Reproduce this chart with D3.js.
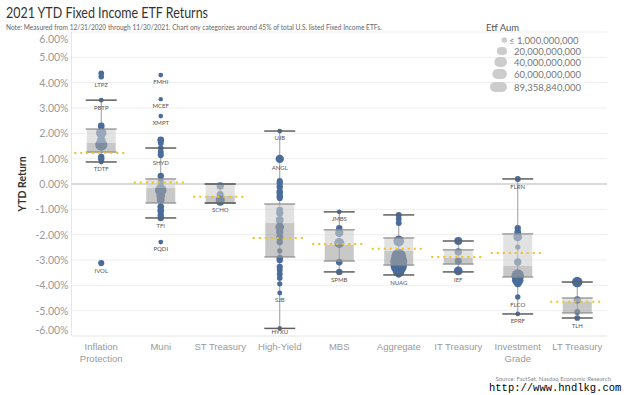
<!DOCTYPE html>
<html>
<head>
<meta charset="utf-8">
<script src="https://cdn.jsdelivr.net/npm/d3@7"></script>
<style>
body { margin: 0; background: #fff; }
svg { font-family: Lato, "Open Sans", sans-serif; }
</style>
</head>
<body>
<svg width="631" height="395"></svg>
<script>
var categories = ["Inflation Protection", "Muni", "ST Treasury", "High-Yield", "MBS",
                  "Aggregate", "IT Treasury", "Investment Grade", "LT Treasury"];
// box plot stats (% return)
var q1s         = [1.26, -0.75, -0.75, -2.88, -3.04, -3.20, -3.16, -3.67, -5.09];
var medians     = [1.62, -0.16, -0.47, -1.54, -2.40, -2.64, -2.92, -3.23, -4.65];
var q3s         = [2.17,  0.20,  0.00, -0.79, -1.81, -2.13, -2.60, -1.97, -4.50];
var whiskerLow  = [0.87, -1.34, -0.75, -5.70, -3.47, -3.59, -3.47, -5.13, -5.29];
var whiskerHigh = [3.31,  1.42,  0.00,  2.09, -1.10, -1.22, -2.25,  0.20, -3.87];
var averages    = [1.22,  0.06, -0.50, -2.13, -2.37, -2.56, -2.88, -2.72, -4.65];
var yTicks = [6, 5, 4, 3, 2, 1, 0, -1, -2, -3, -4, -5, -6];
var legendAum = [1, 20, 40, 60, 89.35884];
var legendLabels = ["\u2264 1,000,000,000", "20,000,000,000", "40,000,000,000",
                    "60,000,000,000", "89,358,840,000"];

// [category index, ytd return %, aum $bn, ticker]
var etfs = [
  [0, 4.37, 1.5, ""], [0, 4.23, 1.2, "LTPZ"], [0, 3.31, 0.3, "PBTP"], [0, 2.29, 4, ""],
  [0, 2.02, 22, ""], [0, 1.75, 10, ""], [0, 1.55, 35, ""], [0, 1.07, 3, ""],
  [0, 0.97, 2.5, ""], [0, 0.87, 0.4, "TDTF"], [0, -3.12, 2.5, "IVOL"],

  [1, 4.30, 0.3, "FMHI"], [1, 3.35, 0.1, "MCEF"], [1, 2.68, 0.2, "XMPT"], [1, 1.74, 4, ""],
  [1, 1.62, 2, ""], [1, 1.42, 1.5, ""], [1, 1.26, 2, ""], [1, 1.14, 2.5, "SHYD"],
  [1, 0.32, 3, ""], [1, 0.12, 2, ""], [1, -0.05, 3, ""], [1, -0.25, 30, ""],
  [1, -0.45, 12, ""], [1, -0.62, 8, ""], [1, -0.90, 4, ""], [1, -1.06, 4, ""],
  [1, -1.22, 3, ""], [1, -1.34, 3, "TFI"], [1, -2.29, 0.3, "PQDI"],

  [2, -0.08, 6, ""], [2, -0.42, 5, ""], [2, -0.63, 14, "SCHO"], [2, -0.70, 8, ""],

  [3, 2.09, 0.3, "UJB"], [3, 0.99, 10, "ANGL"], [3, 0.12, 2, ""], [3, 0.04, 3, ""],
  [3, -0.12, 3, ""], [3, -0.32, 4, ""], [3, -0.47, 3, ""], [3, -0.55, 2.5, ""],
  [3, -1.03, 4, ""], [3, -1.14, 5, ""], [3, -1.42, 8, ""], [3, -1.70, 12, ""],
  [3, -1.89, 6, ""], [3, -2.09, 5, ""], [3, -2.29, 3, ""], [3, -2.64, 0.8, ""],
  [3, -2.92, 3, ""], [3, -3.00, 3, ""], [3, -3.27, 2.5, ""], [3, -3.39, 2, ""],
  [3, -3.55, 2, ""], [3, -3.71, 1.5, ""], [3, -3.94, 0.8, ""], [3, -4.30, 0.5, "SJB"],
  [3, -5.70, 0.2, "HYXU"],

  [4, -1.10, 0.3, "JMBS"], [4, -1.74, 3, ""], [4, -1.93, 10, ""], [4, -2.33, 20, ""],
  [4, -3.08, 4, ""], [4, -3.47, 3, "SPMB"],

  [5, -1.22, 2, ""], [5, -1.38, 1.5, ""], [5, -1.54, 2, ""], [5, -2.25, 25, ""],
  [5, -2.85, 60, ""], [5, -3.05, 89.36, ""], [5, -3.25, 80, ""], [5, -3.45, 30, ""],
  [5, -3.59, 1, "NUAG"],

  [6, -2.25, 8, ""], [6, -2.68, 6, ""], [6, -3.04, 5, ""], [6, -3.43, 12, "IEF"],

  [7, 0.20, 2, "FLRN"], [7, -1.74, 3, ""], [7, -1.90, 4, ""], [7, -2.09, 12, ""],
  [7, -2.49, 1, ""], [7, -3.08, 6, ""], [7, -3.62, 40, ""], [7, -3.80, 30, ""],
  [7, -3.94, 5, ""], [7, -4.46, 1, "FLCO"], [7, -5.13, 0.3, "EPRF"],

  [8, -3.87, 22, ""], [8, -4.58, 6, ""], [8, -5.05, 2, ""], [8, -5.29, 1.5, "TLH"]
];

var svg = d3.select("svg");
var plotLeft = 71.5, plotRight = 607, plotTop = 32, plotBottom = 336;

var x = d3.scaleBand().domain(categories).range([plotLeft, plotRight]);
var y = d3.scaleLinear().domain([-6, 6]).range([plotBottom, plotTop]);
var r = d3.scaleSqrt().domain([0, 89.36]).range([2, 8.5]);
var cx = function(i) { return x(categories[i]) + x.bandwidth() / 2; };
var boxW = 29, refW = 54;
var blue = "#4a6c9b";

// title and note
svg.append("text").attr("x", 6).attr("y", 18)
   .attr("font-size", "14.5px").attr("fill", "#333")
   .attr("textLength", 202).attr("lengthAdjust", "spacingAndGlyphs")
   .text("2021 YTD Fixed Income ETF Returns");
svg.append("text").attr("x", 6).attr("y", 29.5)
   .attr("font-size", "6.6px").attr("fill", "#666")
   .text("Note: Measured from 12/31/2020 through 11/30/2021. Chart ony categorizes around 45% of total U.S. listed Fixed Income ETFs.");

// gridlines
svg.append("g").selectAll("line").data(yTicks.filter(function(d) { return d !== 0; }))
   .enter().append("line")
   .attr("x1", plotLeft).attr("x2", plotRight)
   .attr("y1", function(d) { return y(d); }).attr("y2", function(d) { return y(d); })
   .attr("stroke", "#efefef");
svg.append("line").attr("x1", plotLeft).attr("x2", plotLeft)
   .attr("y1", plotTop).attr("y2", plotBottom).attr("stroke", "#e6e6e6");
svg.append("line").attr("x1", plotLeft).attr("x2", plotRight)
   .attr("y1", plotBottom).attr("y2", plotBottom).attr("stroke", "#eeeeee");
svg.append("line").attr("x1", plotLeft).attr("x2", plotRight)
   .attr("y1", y(0)).attr("y2", y(0)).attr("stroke", "#b5b5b5");

// y axis
var yAxis = svg.append("g")
   .attr("transform", "translate(" + (plotLeft - 3) + ",0)")
   .call(d3.axisLeft(y).tickValues(yTicks).tickSize(0).tickPadding(0)
         .tickFormat(function(d) { return d.toFixed(2) + "%"; }));
yAxis.select(".domain").remove();
yAxis.selectAll("text").attr("font-size", "10.5px").attr("fill", "#9a9a9a")
     .attr("font-family", "Lato, sans-serif")
     .attr("dy", function(d) { return d === 6 ? "1.0em" : d === -6 ? "-0.25em" : "0.32em"; });

svg.append("text")
   .attr("transform", "translate(26," + y(0) + ") rotate(-90)")
   .attr("text-anchor", "middle").attr("font-size", "10.5px").attr("fill", "#333")
   .attr("font-weight", "bold")
   .text("YTD Return");

// x axis labels
var xAxis = svg.append("g").attr("transform", "translate(0," + (plotBottom + 4) + ")")
   .call(d3.axisBottom(x).tickSize(0).tickFormat(""));
xAxis.select(".domain").remove();
xAxis.selectAll(".tick").each(function(d) {
  var words = d === "Inflation Protection" ? ["Inflation", "Protection"]
            : d === "Investment Grade" ? ["Investment", "Grade"] : [d];
  var t = d3.select(this).append("text").attr("fill", "#9a9a9a")
            .attr("font-size", "9.5px").attr("text-anchor", "middle");
  words.forEach(function(w, k) {
    t.append("tspan").attr("x", 0).attr("y", 10 + k * 11.5).text(w);
  });
});

// whisker stems
var boxes = d3.range(categories.length);
svg.append("g").selectAll("line").data(boxes).enter().append("line")
   .attr("x1", cx).attr("x2", cx)
   .attr("y1", function(i) { return y(whiskerHigh[i]); })
   .attr("y2", function(i) { return y(whiskerLow[i]); })
   .attr("stroke", "#9a9a9a");

// points
svg.append("g").selectAll("circle").data(etfs).enter().append("circle")
   .attr("cx", function(d) { return cx(d[0]); })
   .attr("cy", function(d) { return y(d[1]); })
   .attr("r", function(d) { return r(d[2]); })
   .attr("fill", blue);

// boxes (upper = median..q3, lower = q1..median)
var bg = svg.append("g");
bg.selectAll(".upper").data(boxes).enter().append("rect")
  .attr("x", function(i) { return cx(i) - boxW / 2; }).attr("width", boxW)
  .attr("y", function(i) { return y(q3s[i]); })
  .attr("height", function(i) { return y(medians[i]) - y(q3s[i]); })
  .attr("fill", "#cfcfcf").attr("fill-opacity", 0.6);
bg.selectAll(".lower").data(boxes).enter().append("rect")
  .attr("x", function(i) { return cx(i) - boxW / 2; }).attr("width", boxW)
  .attr("y", function(i) { return y(medians[i]); })
  .attr("height", function(i) { return y(q1s[i]) - y(medians[i]); })
  .attr("fill", "#a3a3a3").attr("fill-opacity", 0.6);

// box edges and whisker caps
var edges = [];
boxes.forEach(function(i) {
  edges.push([i, q3s[i], "#8a8a8a", 1.2]);
  edges.push([i, q1s[i], "#8a8a8a", 1.2]);
  edges.push([i, whiskerHigh[i], "#5f5f5f", 1.5]);
  edges.push([i, whiskerLow[i], "#5f5f5f", 1.5]);
});
svg.append("g").selectAll("line").data(edges).enter().append("line")
   .attr("x1", function(d) { return cx(d[0]) - boxW / 2 - 1; })
   .attr("x2", function(d) { return cx(d[0]) + boxW / 2 + 1; })
   .attr("y1", function(d) { return y(d[1]); }).attr("y2", function(d) { return y(d[1]); })
   .attr("stroke", function(d) { return d[2]; })
   .attr("stroke-width", function(d) { return d[3]; });

// average reference lines
svg.append("g").selectAll("line").data(boxes).enter().append("line")
   .attr("x1", function(i) { return cx(i) - refW / 2; })
   .attr("x2", function(i) { return cx(i) + refW / 2; })
   .attr("y1", function(i) { return y(averages[i]); })
   .attr("y2", function(i) { return y(averages[i]); })
   .attr("stroke", "#f0c419").attr("stroke-width", 2)
   .attr("stroke-dasharray", "2,4");

// ticker labels
svg.append("g").selectAll("text").data(etfs.filter(function(d) { return d[3]; }))
   .enter().append("text")
   .attr("x", function(d) { return cx(d[0]); })
   .attr("y", function(d) { return Math.min(y(d[1]) + r(d[2]) + 7, plotBottom - 2); })
   .attr("text-anchor", "middle").attr("font-size", "6px").attr("fill", "#555")
   .text(function(d) { return d[3]; });

// legend
var lg = svg.append("g");
lg.append("text").attr("x", 486).attr("y", 31).attr("font-size", "9.5px")
  .attr("fill", "#555").text("Etf Aum");
var rowY = [40, 51, 62, 74, 87];
legendAum.forEach(function(v, k) {
  var rr = r(v), h = k === 0 ? 2 * rr : Math.min(rr * 1.6, 10);
  var w = 2 * rr;
  lg.append("rect").attr("x", 507 - w).attr("y", rowY[k] - h / 2)
    .attr("width", w).attr("height", h).attr("rx", h / 2)
    .attr("fill", "#cccccc");
  lg.append("text").attr("x", k === 0 ? 509 : 514).attr("y", rowY[k] + 3.5)
    .attr("font-size", "9.5px").attr("fill", "#777").text(legendLabels[k]);
});

// source and watermark
svg.append("text").attr("x", 611).attr("y", 381).attr("text-anchor", "end")
   .attr("font-size", "6px").attr("fill", "#8a8a8a")
   .text("Source: FactSet, Nasdaq Economic Research");
svg.append("text").attr("x", 489).attr("y", 391)
   .attr("font-family", "Liberation Mono, monospace").attr("font-size", "10.5px")
   .attr("fill", "#000").text("http://www.hndlkg.com");
</script>
</body>
</html>
